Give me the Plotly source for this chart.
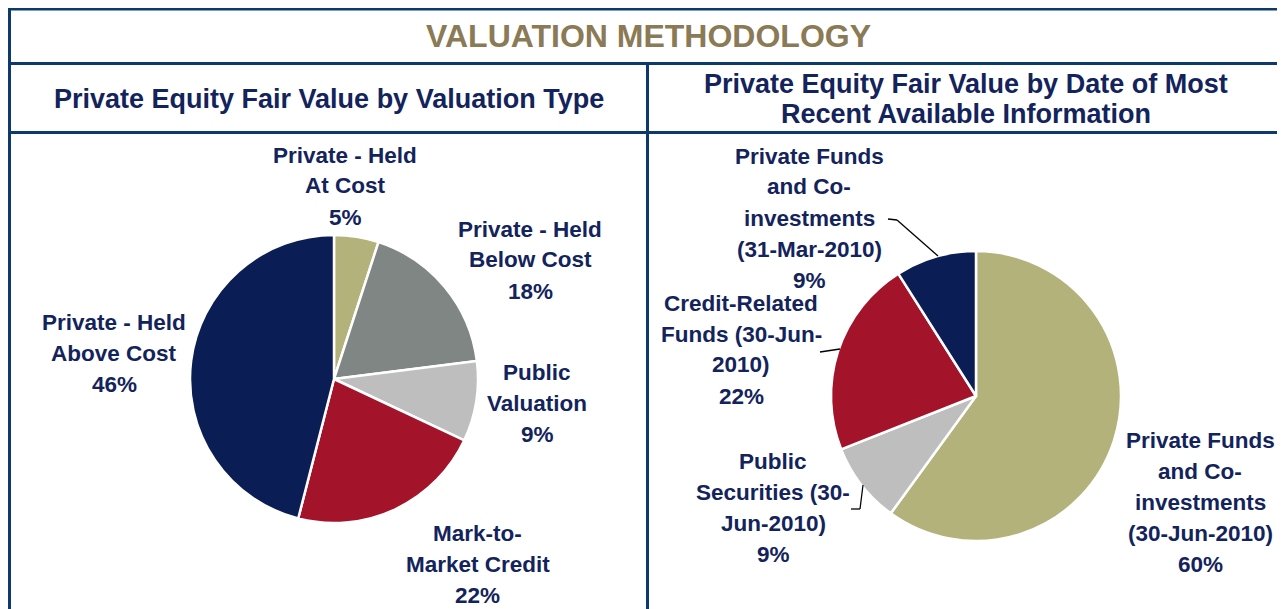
import plotly.graph_objects as go

W, H = 1285, 609
# the page body adds an 8px margin, so page pixels are shifted back by it
OFFSET = 8

NAVY_TEXT = "#13235B"
BORDER = "#0B3A6B"
FONT = "Arial, Liberation Sans, sans-serif"

# left pie: valuation type
type_labels = [
    "Private - Held At Cost",
    "Private - Held Below Cost",
    "Public Valuation",
    "Mark-to-Market Credit",
    "Private - Held Above Cost",
]
type_values = [5, 18, 9, 22, 46]
type_colors = ["#B3B27A", "#7F8683", "#BEBEBE", "#A31329", "#0B1D55"]
type_text = [
    ["Private - Held", "At Cost", "5%"],
    ["Private - Held", "Below Cost", "18%"],
    ["Public", "Valuation", "9%"],
    ["Mark-to-", "Market Credit", "22%"],
    ["Private - Held", "Above Cost", "46%"],
]

# right pie: date of most recent information
date_labels = [
    "Private Funds and Co-investments (30-Jun-2010)",
    "Public Securities (30-Jun-2010)",
    "Credit-Related Funds (30-Jun-2010)",
    "Private Funds and Co-investments (31-Mar-2010)",
]
date_values = [60, 9, 22, 9]
date_colors = ["#B3B27A", "#BEBEBE", "#A31329", "#0B1D55"]
date_text = [
    ["Private Funds", "and Co-", "investments", "(30-Jun-2010)", "60%"],
    ["Public", "Securities (30-", "Jun-2010)", "9%"],
    ["Credit-Related", "Funds (30-Jun-", "2010)", "22%"],
    ["Private Funds", "and Co-", "investments", "(31-Mar-2010)", "9%"],
]

# label placement in page pixels: (center x, first line y)
type_pos = [(345, 155), (530, 229), (537, 372), (478, 533), (114, 322)]
date_pos = [(1200, 440), (773, 461), (741, 303), (809, 156)]
LINE_GAP = 31


def px_x(x):
    return (x - OFFSET) / W


def px_y(y):
    return 1 - (y - OFFSET) / H


def pie_domain(cx, cy, r):
    return {
        "x": [px_x(cx - r), px_x(cx + r)],
        "y": [px_y(cy + r), px_y(cy - r)],
    }


fig = go.Figure()

fig.add_trace(go.Pie(
    labels=type_labels,
    values=type_values,
    marker={"colors": type_colors, "line": {"color": "white", "width": 2.5}},
    sort=False,
    direction="clockwise",
    rotation=0,
    textinfo="none",
    domain=pie_domain(334, 379, 144),
))

fig.add_trace(go.Pie(
    labels=date_labels,
    values=date_values,
    marker={"colors": date_colors, "line": {"color": "white", "width": 2.5}},
    sort=False,
    direction="clockwise",
    rotation=0,
    textinfo="none",
    domain=pie_domain(976, 396, 145),
))

annotations = []


def add_text(text, x, y, size, color=NAVY_TEXT):
    annotations.append({
        "text": f"<b>{text}</b>",
        "x": px_x(x),
        "y": px_y(y),
        "xref": "paper",
        "yref": "paper",
        "xanchor": "center",
        "yanchor": "middle",
        "showarrow": False,
        "font": {"family": FONT, "size": size, "color": color},
    })


for lines, (cx, y0) in zip(type_text + date_text, type_pos + date_pos):
    for i, line in enumerate(lines):
        add_text(line, cx, y0 + i * LINE_GAP, 22.5)

add_text("VALUATION METHODOLOGY", 648, 36, 32, "#8A7A55")
add_text("Private Equity Fair Value by Valuation Type", 329, 99, 27)
add_text("Private Equity Fair Value by Date of Most", 966, 84, 27)
add_text("Recent Available Information", 966, 114, 27)

shapes = []


def add_line(x0, y0, x1, y1, color=BORDER, width=3):
    shapes.append({
        "type": "line",
        "xref": "paper",
        "yref": "paper",
        "x0": px_x(x0),
        "y0": px_y(y0),
        "x1": px_x(x1),
        "y1": px_y(y1),
        "line": {"color": color, "width": width},
    })


# table borders
add_line(8, 9, W + 20, 9)
add_line(9.5, 8, 9.5, H + 20)
add_line(8, 63.5, W + 20, 63.5)
add_line(8, 132.5, W + 20, 132.5)
add_line(647.5, 63, 647.5, H + 20)

# leader lines
for path in [
    [(888, 219), (897, 220), (938, 256)],
    [(820, 352), (840, 349)],
    [(851, 509), (860, 509), (863, 485)],
]:
    for (ax, ay), (bx, by) in zip(path[:-1], path[1:]):
        add_line(ax, ay, bx, by, color="black", width=1.3)

fig.update_layout(
    width=W,
    height=H,
    margin={"l": 0, "r": 0, "t": 0, "b": 0},
    paper_bgcolor="white",
    plot_bgcolor="white",
    showlegend=False,
    annotations=annotations,
    shapes=shapes,
)

fig.write_html("out.html")
